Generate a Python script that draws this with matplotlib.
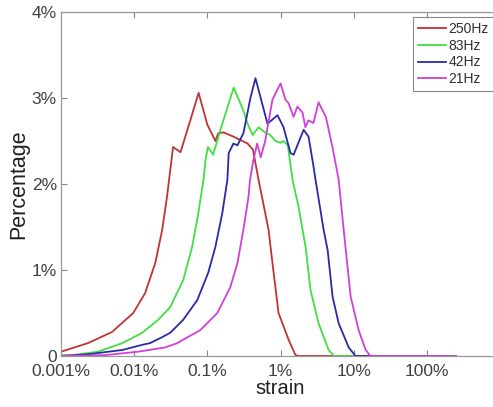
import matplotlib
matplotlib.use("Agg")
import matplotlib.pyplot as plt

plt.rcParams['font.family'] = ['Liberation Sans', 'DejaVu Sans']

# strain (%) and percentage values
strain_250 = [0.001, 0.00234, 0.005, 0.0097, 0.0141, 0.0194, 0.0242, 0.0281, 0.034, 0.043,
              0.059, 0.076, 0.1, 0.129, 0.141, 0.166, 0.229, 0.355, 0.42, 0.501,
              0.686, 0.777, 0.94, 1.29, 1.6, 1.78, 250]
pct_250 = [0.05, 0.15, 0.28, 0.5, 0.73, 1.08, 1.47, 1.85, 2.43, 2.37,
           2.75, 3.06, 2.69, 2.5, 2.59, 2.6, 2.55, 2.47, 2.4, 2.05,
           1.47, 1.08, 0.5, 0.19, 0.01, 0.0, 0.0]

strain_83 = [0.001, 0.00142, 0.0032, 0.0069, 0.0129, 0.0213, 0.0311, 0.0467, 0.062, 0.0753,
             0.0886, 0.095, 0.102, 0.12, 0.151, 0.229, 0.309, 0.355, 0.417, 0.501,
             0.617, 0.724, 0.851, 1.0, 1.1, 1.26, 1.46, 1.77, 2.2, 2.57,
             3.31, 4.55, 5.37, 250]
pct_83 = [0.01, 0.01, 0.05, 0.15, 0.27, 0.42, 0.57, 0.88, 1.27, 1.66,
          2.05, 2.3, 2.43, 2.34, 2.63, 3.12, 2.86, 2.7, 2.57, 2.66,
          2.6, 2.57, 2.5, 2.48, 2.5, 2.45, 2.05, 1.73, 1.27, 0.77,
          0.38, 0.07, 0.0, 0.0]

strain_42 = [0.001, 0.00234, 0.0069, 0.0129, 0.0165, 0.0242, 0.0311, 0.0467, 0.0729, 0.103,
             0.129, 0.16, 0.188, 0.196, 0.227, 0.258, 0.311, 0.388, 0.455, 0.664,
             0.91, 1.1, 1.37, 1.51, 2.07, 2.42, 2.83, 3.01, 3.88, 4.41,
             5.15, 6.24, 8.55, 10.6, 250]
pct_42 = [0.0, 0.02, 0.07, 0.13, 0.15, 0.22, 0.27, 0.42, 0.65, 0.97,
          1.27, 1.66, 2.05, 2.36, 2.47, 2.45, 2.59, 3.0, 3.23, 2.7,
          2.8, 2.66, 2.36, 2.34, 2.63, 2.55, 2.2, 2.05, 1.47, 1.23,
          0.69, 0.38, 0.1, 0.0, 0.0]

strain_21 = [0.001, 0.004, 0.0113, 0.0266, 0.0389, 0.0467, 0.08, 0.137, 0.206, 0.258,
             0.311, 0.365, 0.383, 0.427, 0.479, 0.537, 0.617, 0.776, 1.0, 1.17,
             1.29, 1.51, 1.7, 2.0, 2.19, 2.4, 2.82, 3.31, 4.17, 5.13,
             6.24, 7.3, 9.1, 11.7, 14.6, 17.0, 250]
pct_21 = [0.0, 0.01, 0.05, 0.1, 0.15, 0.19, 0.3, 0.5, 0.8, 1.08,
          1.47, 1.85, 2.05, 2.28, 2.47, 2.31, 2.5, 2.98, 3.17, 2.98,
          2.94, 2.78, 2.9, 2.83, 2.66, 2.74, 2.71, 2.95, 2.78, 2.43,
          2.05, 1.47, 0.69, 0.3, 0.07, 0.0, 0.0]

x_ticks = [0.001, 0.01, 0.1, 1, 10, 100]
x_labels = ["0.001%", "0.01%", "0.1%", "1%", "10%", "100%"]
y_ticks = [0, 1, 2, 3, 4]
y_labels = ["0", "1%", "2%", "3%", "4%"]

fig = plt.figure(figsize=(4.93, 4.07), dpi=100)
ax = fig.add_axes([61/493, 1 - 356/407, 439/493, 344/407])

ax.plot(strain_250, pct_250, color="#c03333", lw=1.3, label="250Hz")
ax.plot(strain_83, pct_83, color="#3fe03f", lw=1.3, label="83Hz")
ax.plot(strain_42, pct_42, color="#2a2aa8", lw=1.3, label="42Hz")
ax.plot(strain_21, pct_21, color="#d040d8", lw=1.3, label="21Hz")

ax.set_xscale("log")
ax.set_xlim(1e-3, 1e3)
ax.set_ylim(0, 4)
ax.set_xticks(x_ticks)
ax.set_xticklabels(x_labels)
ax.minorticks_off()
ax.set_yticks(y_ticks)
ax.set_yticklabels(y_labels)
ax.tick_params(direction="in", length=4, width=0.8, color="#888888",
               labelsize=12.5, labelcolor="#404040", top=True, pad=3)
ax.tick_params(axis="x", pad=6)
for s in ax.spines.values():
    s.set_color("#999999")
    s.set_linewidth(0.9)

ax.set_xlabel("strain", fontsize=14.5, color="#202020", labelpad=0)
ax.set_ylabel("Percentage", fontsize=15.5, color="#202020", labelpad=2)

leg = fig.legend(loc="upper left", bbox_to_anchor=(413/493, 1 - 17/407),
                 fontsize=10, fancybox=False, framealpha=1, edgecolor="#888888",
                 handlelength=2.0, handletextpad=0.2, labelspacing=0.2,
                 borderpad=0.35, borderaxespad=0)
leg.get_frame().set_linewidth(0.8)
for t in leg.get_texts():
    t.set_color("#303030")

fig.savefig("out.png", dpi=100)
